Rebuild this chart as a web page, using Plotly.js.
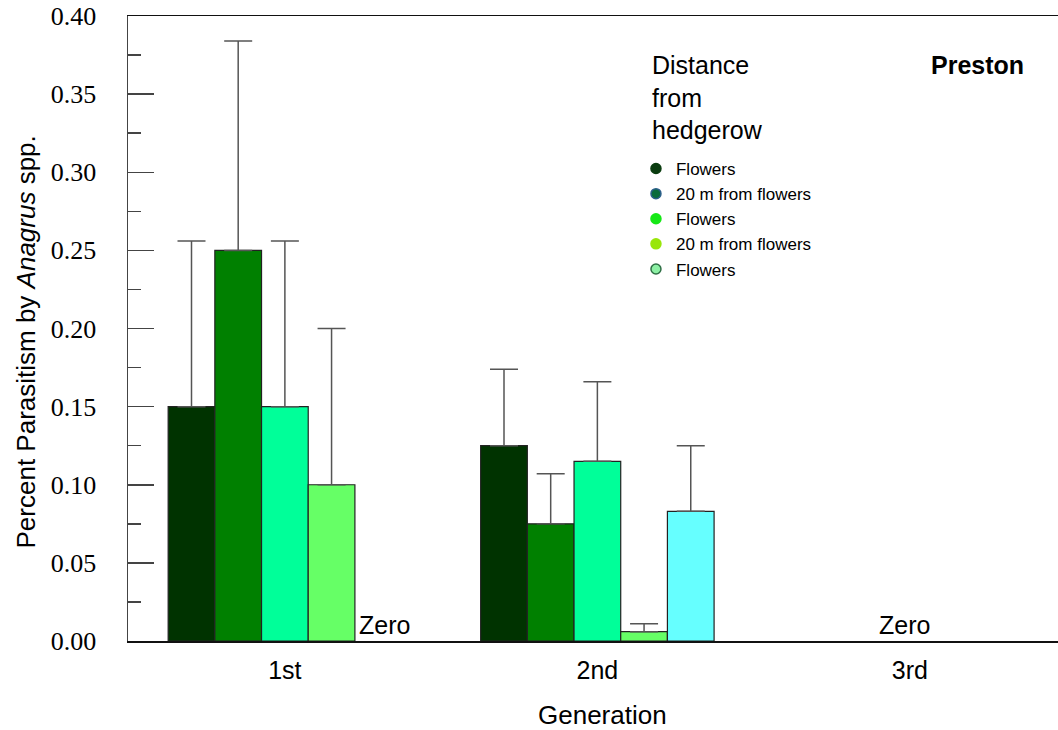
<!DOCTYPE html>
<html>
<head>
<meta charset="utf-8">
<script src="https://cdn.plot.ly/plotly-3.0.1.min.js"></script>
<style>html,body{margin:0;padding:0;background:#fff;}#chart{width:1058px;height:730px;}</style>
</head>
<body>
<div id="chart"></div>
<script>
// Data
var generations = ["1st", "2nd", "3rd"];
var seriesNames = ["Flowers", "20 m from flowers", "Flowers", "20 m from flowers", "Flowers"];
var barColors = ["#003300", "#008000", "#00FF99", "#66FF66", "#66FFFF"];
var legendColors = ["#0b3d10", "#0a6b3c", "#16e816", "#99e60a", "#8cf0a4"];
var legendLineColors = ["#0b3d10", "#2b5f8a", "#16e816", "#99e60a", "#2f6f45"];
var values = [
  [0.150, 0.125, null],
  [0.250, 0.075, null],
  [0.150, 0.115, null],
  [0.100, 0.006, null],
  [null, 0.083, null]
];
var errPlus = [
  [0.106, 0.049, null],
  [0.134, 0.032, null],
  [0.106, 0.051, null],
  [0.100, 0.005, null],
  [null, 0.042, null]
];
var zeroLabels = [{x: 0.32, text: "Zero", shift: 0}, {x: 2, text: "Zero", shift: -5}];
var legendTitle = "Distance<br>from<br>hedgerow";
var panelLabel = "Preston";
var xTitle = "Generation";
var yTitle = "Percent Parasitism by <i>Anagrus</i> spp.";

var FONT = "Liberation Sans, Arial, sans-serif";

var traces = [];
for (var i = 0; i < seriesNames.length; i++) {
  traces.push({
    type: "bar",
    x: generations,
    y: values[i],
    name: seriesNames[i],
    showlegend: false,
    marker: {color: barColors[i], line: {color: "#222222", width: 1.2}},
    error_y: {type: "data", array: errPlus[i], symmetric: false, arrayminus: [0,0,0],
              color: "#555555", thickness: 1.5, width: 14}
  });
}
for (var j = 0; j < seriesNames.length; j++) {
  traces.push({
    type: "scatter",
    mode: "markers",
    x: [null], y: [null],
    name: seriesNames[j],
    showlegend: true,
    marker: {symbol: "circle", size: 10, color: legendColors[j], line: {color: legendLineColors[j], width: 1.5}}
  });
}

var annotations = zeroLabels.map(function (z) {
  return {x: z.x, y: 0, xref: "x", yref: "y", text: z.text, showarrow: false,
          yanchor: "bottom", xanchor: "center", yshift: 0, xshift: z.shift,
          font: {family: FONT, size: 25, color: "#000"}};
});
annotations.push({x: 1, y: 1, xref: "paper", yref: "paper", xanchor: "right", yanchor: "middle",
  xshift: -32, yshift: -49, text: "<b>" + panelLabel + "</b>", showarrow: false,
  font: {family: FONT, size: 25, color: "#000"}});
annotations.push({x: 0.5634, y: 1, xref: "paper", yref: "paper", xanchor: "left", yanchor: "top",
  align: "left", yshift: -33, xshift: -2, text: legendTitle, showarrow: false,
  font: {family: FONT, size: 25, color: "#000"}});
annotations.push({x: 0.5, y: 0, xref: "paper", yref: "paper", xanchor: "center", yanchor: "middle",
  xshift: 9, yshift: -74, text: xTitle, showarrow: false,
  font: {family: FONT, size: 26, color: "#000"}});
annotations.push({x: 0, y: 0.5, xref: "paper", yref: "paper", xanchor: "center", yanchor: "middle",
  xshift: -103, yshift: -14, textangle: -90, text: yTitle, showarrow: false,
  font: {family: FONT, size: 26, color: "#000"}});

var layout = {
  width: 1058, height: 730,
  margin: {l: 128, r: 0, t: 16, b: 89, pad: 0},
  paper_bgcolor: "#fff", plot_bgcolor: "#fff",
  barmode: "group", bargap: 0.253, bargroupgap: 0,
  showlegend: true,
  legend: {
    x: 0.5462, y: 0.784, xanchor: "left", yanchor: "top",
    bgcolor: "rgba(0,0,0,0)", borderwidth: 0,
    font: {family: FONT, size: 17, color: "#000"},
    itemwidth: 30, tracegroupgap: 0
  },
  xaxis: {
    type: "category", range: [-0.502, 2.474],
    showline: true, linecolor: "#111", linewidth: 1.5, mirror: true,
    ticks: "", showgrid: false, zeroline: false,
    tickfont: {family: FONT, size: 25, color: "#000"},
    ticklabelstandoff: 6
  },
  yaxis: {
    range: [0, 0.4], tickvals: [0, 0.05, 0.1, 0.15, 0.2, 0.25, 0.3, 0.35, 0.4],
    ticktext: ["0.00","0.05","0.10","0.15","0.20","0.25","0.30","0.35","0.40"],
    ticks: "inside", ticklen: 26, tickcolor: "#444", tickwidth: 1.5,
    minor: {tickvals: [0.025,0.075,0.125,0.175,0.225,0.275,0.325,0.375], ticks: "inside", ticklen: 13, tickcolor: "#444", tickwidth: 1.5, showgrid: false},
    showline: true, linecolor: "#444", linewidth: 1.5,
    showgrid: false, zeroline: false,
    ticklabelstandoff: 25,
    tickfont: {family: "Liberation Serif, Times New Roman, serif", size: 26, color: "#000"}
  },
  annotations: annotations
};

Plotly.newPlot("chart", traces, layout, {displayModeBar: false, staticPlot: true});
</script>
</body>
</html>
